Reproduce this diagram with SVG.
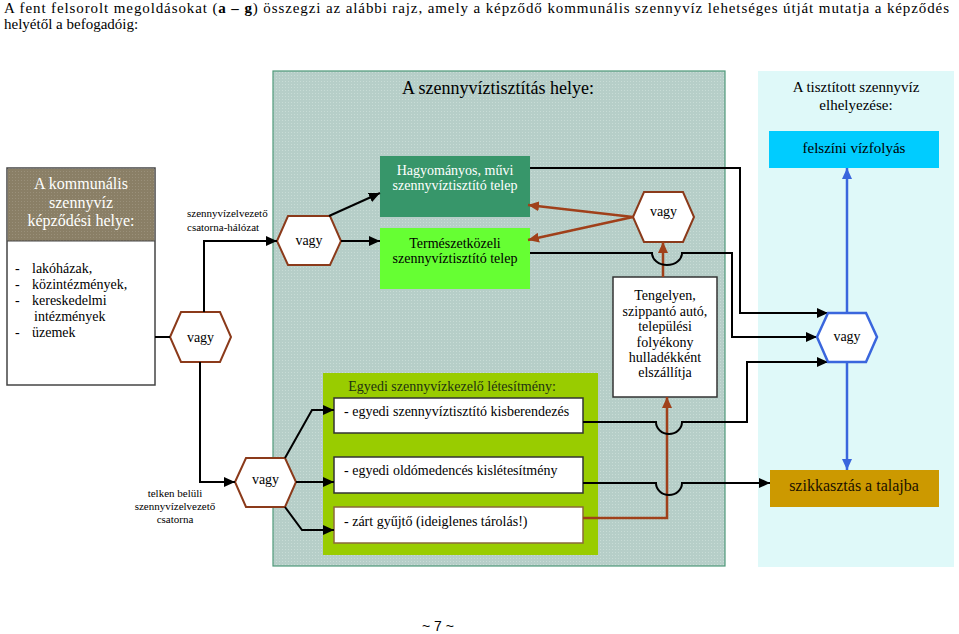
<svg xmlns="http://www.w3.org/2000/svg" width="959" height="634" viewBox="0 0 959 634" font-family="Liberation Serif, DejaVu Serif, serif">
<defs>
<marker id="ak" markerUnits="userSpaceOnUse" markerWidth="12" markerHeight="10" refX="11" refY="5" orient="auto"><path d="M0,0 L11,5 L0,10 z" fill="#000"/></marker>
<marker id="ab" markerUnits="userSpaceOnUse" markerWidth="12" markerHeight="10" refX="11" refY="5" orient="auto"><path d="M0,0 L11,5 L0,10 z" fill="#a0401a"/></marker>
<marker id="abl" markerUnits="userSpaceOnUse" markerWidth="12" markerHeight="10" refX="11" refY="5" orient="auto"><path d="M0,0 L11,5 L0,10 z" fill="#3a66dd"/></marker>
<pattern id="dots" width="3" height="3" patternUnits="userSpaceOnUse"><rect width="3" height="3" fill="#b6cec8"/><rect width="1" height="1" fill="#c8dcd6"/></pattern>
<pattern id="dots2" width="3" height="3" patternUnits="userSpaceOnUse"><rect width="3" height="3" fill="#8a7f66"/><rect width="1" height="1" fill="#9a907a"/></pattern>
</defs>
<style>
text{font-family:'Liberation Serif','DejaVu Serif',serif;fill:#000}
.c{text-anchor:middle}
.hb{fill:#fff;stroke:#8b3a1a;stroke-width:2}
.hbl{fill:#fff;stroke:#3a66dd;stroke-width:2.5}
.bx{fill:#fff;stroke:#333;stroke-width:1.5}
.k{fill:none;stroke:#000;stroke-width:2}
.b{fill:none;stroke:#a0401a;stroke-width:2.5}
.bl{fill:none;stroke:#3a66dd;stroke-width:2.5}
.f14{font-size:14px}
.f11{font-size:11px}
</style>
<rect width="959" height="634" fill="#fff"/>
<text x="4" y="13" font-size="15" textLength="945" lengthAdjust="spacing">A fent felsorolt megoldásokat (<tspan font-weight="bold">a – g</tspan>) összegzi az alábbi rajz, amely a képződő kommunális szennyvíz lehetséges útját mutatja a képződés</text>
<text x="4" y="29" font-size="15">helyétől a befogadóig:</text>

<g id="panel-middle">
<rect x="273" y="71" width="452" height="495" fill="url(#dots)" stroke="#4f9a7a" stroke-width="1.2"/>
<text x="498" y="94" class="c" font-size="18">A szennyvíztisztítás helye:</text>
</g>
<g id="panel-right">
<rect x="758" y="71" width="196" height="496" fill="#dff9f9"/>
<text x="856" y="92" class="c" font-size="15">A tisztított szennyvíz</text>
<text x="856" y="110" class="c" font-size="15">elhelyezése:</text>
</g>

<g id="source">
<rect x="7" y="168" width="148" height="217" fill="#fff" stroke="#444" stroke-width="1.5"/>
<rect x="7.75" y="168.75" width="146.5" height="72.25" fill="url(#dots2)"/>
<line x1="7" y1="241" x2="155" y2="241" stroke="#444" stroke-width="1.2"/>
<text x="81" y="189" class="c" font-size="16" style="fill:#fff">A kommunális</text>
<text x="81" y="208" class="c" font-size="16" style="fill:#fff">szennyvíz</text>
<text x="81" y="226" class="c" font-size="16" style="fill:#fff">képződési helye:</text>
<g class="f14">
<text x="15" y="273">-</text><text x="32" y="273">lakóházak,</text>
<text x="15" y="289">-</text><text x="32" y="289">közintézmények,</text>
<text x="15" y="305">-</text><text x="32" y="305">kereskedelmi</text>
<text x="34" y="321">intézmények</text>
<text x="15" y="337">-</text><text x="32" y="337">üzemek</text>
</g>
</g>

<g id="label-network"><text x="187" y="217" class="f11">szennyvízelvezető</text><text x="187" y="231" class="f11">csatorna-hálózat</text></g>
<g id="label-plot"><text x="175" y="497" class="c f11">telken belüli</text><text x="175" y="510" class="c f11">szennyvízelvezető</text><text x="175" y="523" class="c f11">csatorna</text></g>

<g id="hex1"><polygon class="hb" points="170,337 181,312 220,312 231,337 220,362 181,362"/><text x="200.5" y="342" class="c f14">vagy</text></g>
<g id="hex2"><polygon class="hb" points="277,241 288,216 330,216 341,241 330,265 288,265"/><text x="309" y="245" class="c f14">vagy</text></g>
<g id="hex3"><polygon class="hb" points="235,482 246,458 285,458 296,482 285,507 246,507"/><text x="265.5" y="484" class="c f14">vagy</text></g>
<g id="hex4"><polygon class="hb" points="633,217 644,192 683,192 694,217 683,242 644,242"/><text x="663.5" y="216" class="c f14">vagy</text></g>

<g id="conventional"><rect x="380" y="156" width="150" height="61" fill="#37966a"/><text x="455" y="175" class="c f14" style="fill:#fff">Hagyományos, művi</text><text x="455" y="190" class="c f14" style="fill:#fff">szennyvíztisztító telep</text></g>
<g id="natural"><rect x="380" y="228" width="150" height="61" fill="#66ff33"/><text x="455" y="248" class="c f14">Természetközeli</text><text x="455" y="263" class="c f14">szennyvíztisztító telep</text></g>

<g id="individual">
<rect x="323" y="373" width="275" height="182" fill="#99cc00"/>
<text x="452" y="391" class="c f14" style="fill:#1e3212">Egyedi szennyvízkezelő létesítmény:</text>
</g>
<g id="box-small"><rect class="bx" x="334" y="398" width="249" height="35"/><text x="344" y="416" class="f14">- egyedi szennyvíztisztító kisberendezés</text></g>
<g id="box-septic"><rect class="bx" x="334" y="457" width="249" height="36"/><text x="344" y="475" class="f14">- egyedi oldómedencés kislétesítmény</text></g>
<g id="box-closed"><rect class="bx" x="334" y="507" width="249" height="36" style="stroke:#8a6a3a"/><text x="344" y="526" class="f14">- zárt gyűjtő (ideiglenes tárolás!)</text></g>

<g id="truck"><rect class="bx" x="613" y="277" width="104" height="120"/>
<g class="f14"><text x="665" y="300" class="c">Tengelyen,</text><text x="665" y="316" class="c">szippantó autó,</text><text x="665" y="331" class="c">települési</text><text x="665" y="347" class="c">folyékony</text><text x="665" y="362" class="c">hulladékként</text><text x="665" y="377" class="c">elszállítja</text></g></g>

<g id="surface"><rect x="769" y="131" width="170" height="37" fill="#00ccff"/><text x="854" y="153" class="c" font-size="15">felszíni vízfolyás</text></g>
<g id="soil"><rect x="770" y="470" width="169" height="37" fill="#cc9900"/><text x="854" y="491" class="c" font-size="16" style="fill:#1a1000">szikkasztás a talajba</text></g>

<g id="connectors">
<path class="k" d="M155 337 H170"/>
<path class="k" d="M204 312 V241 H277" marker-end="url(#ak)"/>
<path class="k" d="M200 362 V482 H235" marker-end="url(#ak)"/>
<path class="k" d="M329 216 L380 193" marker-end="url(#ak)"/>
<path class="k" d="M341 241 H380" marker-end="url(#ak)"/>
<path class="k" d="M285 458 L312 410 H334" marker-end="url(#ak)"/>
<path class="k" d="M296 482 H334" marker-end="url(#ak)"/>
<path class="k" d="M285 507 L302 530 H334" marker-end="url(#ak)"/>
<path class="b" d="M633 217 L528 205" marker-end="url(#ab)"/>
<path class="b" d="M633 217 L528 240" marker-end="url(#ab)"/>
<path class="b" d="M663 277 V242" marker-end="url(#ab)"/>
<path class="b" d="M583 518 H667 V397" marker-end="url(#ab)"/>
<path class="k" d="M530 168 H740 V313 H828" marker-end="url(#ak)"/>
<path class="k" d="M530 253 H652 A15 12 0 0 0 682 253 H732 V337 H817" marker-end="url(#ak)"/>
<path class="k" d="M583 422 H656 A13 12 0 0 0 682 422 H747 V362 H828" marker-end="url(#ak)"/>
<path class="k" d="M583 483 H656 A13 12 0 0 0 682 483 H770" marker-end="url(#ak)"/>
<path class="bl" d="M847 313 V168" marker-end="url(#abl)"/>
<path class="bl" d="M847 362 V470" marker-end="url(#abl)"/>
</g>

<g id="hex5"><polygon class="hbl" points="817,337 828,313 866,313 877,337 866,362 828,362"/><text x="847" y="341" class="c f14">vagy</text></g>

<text x="438" y="631" class="c" font-size="14" style="font-family:'Liberation Sans',Arial,sans-serif">~ 7 ~</text>
</svg>
